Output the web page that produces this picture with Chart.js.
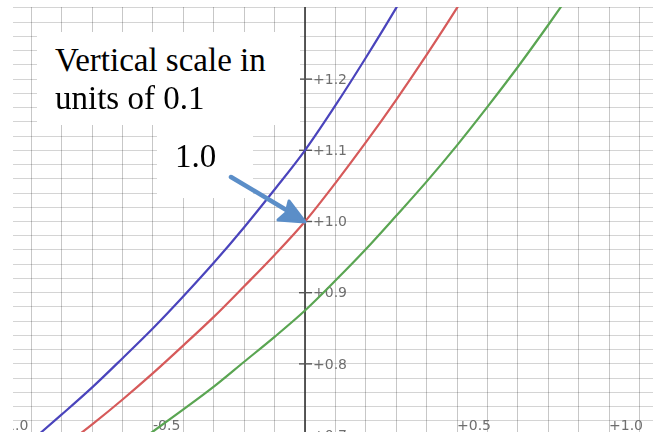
<!DOCTYPE html>
<html><head><meta charset="utf-8">
<script src="https://cdn.jsdelivr.net/npm/chart.js@4/dist/chart.umd.min.js"></script>
<style>
html,body{margin:0;padding:0;background:#fff;}
#wrap{position:relative;width:661px;height:432px;overflow:hidden;}
#c{position:absolute;left:0;top:0;}
.box{position:absolute;background:#fff;}
.txt{position:absolute;font-family:"Liberation Serif","Times New Roman",serif;font-size:33px;color:#000;white-space:nowrap;line-height:1;}
#arrow{position:absolute;left:0;top:0;}
</style></head><body>
<div id="wrap">
<canvas id="c" width="661" height="432"></canvas>
<div class="box" style="left:37px;top:32px;width:263px;height:93px"></div>
<div class="box" style="left:157px;top:124px;width:96px;height:74px"></div>
<div class="txt" style="left:55px;top:44px">Vertical scale in</div>
<div class="txt" style="left:55px;top:82px">units of 0.1</div>
<div class="txt" style="left:175px;top:140px">1.0</div>
<svg id="arrow" width="661" height="432">
  <line x1="231" y1="177" x2="298" y2="217" stroke="#5b8ec8" stroke-width="4.5" stroke-linecap="round"/>
  <polygon points="289,201 305,222 278,220 286,213" fill="#5b8ec8" stroke="#5b8ec8" stroke-width="3" stroke-linejoin="round"/>
</svg>
</div>
<script>
// Series
const blueX = [-0.9, -0.8, -0.7, -0.6, -0.5, -0.4, -0.3, -0.2, -0.1, 0.0, 0.1, 0.2, 0.3, 0.4];
const blueY = [0.692, 0.729, 0.767, 0.808, 0.850, 0.895, 0.942, 0.992, 1.045, 1.100, 1.163, 1.230, 1.300, 1.375];
const redX = [-0.8, -0.7, -0.6, -0.5, -0.4, -0.3, -0.2, -0.1, 0.0, 0.1, 0.2, 0.3, 0.4, 0.5, 0.6];
const redY = [0.682, 0.715, 0.750, 0.787, 0.826, 0.866, 0.909, 0.953, 1.000, 1.054, 1.111, 1.171, 1.234, 1.300, 1.370];
const greenX = [-0.6, -0.5, -0.4, -0.3, -0.2, -0.1, 0.0, 0.1, 0.2, 0.3, 0.4, 0.5, 0.6, 0.7, 0.8, 0.9];
const greenY = [0.675, 0.705, 0.736, 0.768, 0.803, 0.838, 0.875, 0.917, 0.961, 1.008, 1.056, 1.107, 1.161, 1.217, 1.276, 1.337];

// Axis labels
const yTickValues = [0.7, 0.8, 0.9, 1.0, 1.1, 1.2];
const yTickLabels = ['+0.7', '+0.8', '+0.9', '+1.0', '+1.1', '+1.2'];
const xTickValues = [-1.0, -0.5, 0.5, 1.0];
const xTickLabels = ['-1.0', '-0.5', '+0.5', '+1.0'];

const pts = (xs, ys) => xs.map((x, i) => ({x, y: ys[i]}));

const axisPlugin = {
  id: 'axes',
  beforeDatasetsDraw(chart) {
    const {ctx, chartArea: a, scales: {x, y}} = chart;
    ctx.save();
    ctx.beginPath();
    ctx.rect(a.left, a.top, a.right - a.left, a.bottom - a.top);
    ctx.clip();
    const x0 = x.getPixelForValue(0);
    ctx.strokeStyle = '#333';
    ctx.lineWidth = 1.6;
    ctx.beginPath(); ctx.moveTo(x0, a.top); ctx.lineTo(x0, a.bottom + 5); ctx.stroke();
    ctx.font = '14px "DejaVu Sans"';
    ctx.fillStyle = '#6e6e6e';
    ctx.textBaseline = 'middle';
    ctx.textAlign = 'left';
    ctx.lineWidth = 1.4;
    ctx.strokeStyle = '#555';
    yTickValues.forEach((v, i) => {
      const py = y.getPixelForValue(v);
      ctx.beginPath(); ctx.moveTo(x0 - 6, py); ctx.lineTo(x0 + 7, py); ctx.stroke();
      ctx.fillText(yTickLabels[i], x0 + 8, py + 1);
    });
    const pyAxis = y.getPixelForValue(0.7);
    xTickValues.forEach((v, i) => {
      const px = x.getPixelForValue(v);
      ctx.fillText(xTickLabels[i], px, pyAxis - 9);
    });
    ctx.restore();
  }
};

const gridStep = (scale, step) => {
  const out = [];
  const s = Math.ceil(scale.min / step - 1e-9), e = Math.floor(scale.max / step + 1e-9);
  for (let k = s; k <= e; k++) out.push({value: +(k * step).toFixed(4)});
  scale.ticks = out;
};

new Chart(document.getElementById('c'), {
  type: 'line',
  data: {
    datasets: [
      {label: 'blue', data: pts(blueX, blueY), borderColor: '#4a44bc', borderWidth: 2.2, pointRadius: 0, tension: 0.4, cubicInterpolationMode: 'monotone'},
      {label: 'red', data: pts(redX, redY), borderColor: '#d65a5a', borderWidth: 2.2, pointRadius: 0, tension: 0.4, cubicInterpolationMode: 'monotone'},
      {label: 'green', data: pts(greenX, greenY), borderColor: '#5aa552', borderWidth: 2.2, pointRadius: 0, tension: 0.4, cubicInterpolationMode: 'monotone'}
    ]
  },
  options: {
    responsive: false,
    animation: false,
    devicePixelRatio: 1,
    layout: {padding: {left: 13, top: 7, right: 8, bottom: 0}},
    plugins: {legend: {display: false}, tooltip: {enabled: false}},
    scales: {
      x: {
        type: 'linear', min: -0.9605, max: 1.1447,
        grid: {color: 'rgba(0,0,0,0.22)', lineWidth: 1, drawTicks: false},
        border: {display: false},
        ticks: {display: false},
        afterBuildTicks: s => gridStep(s, 0.1)
      },
      y: {
        type: 'linear', min: 0.7043, max: 1.3013,
        grid: {color: 'rgba(0,0,0,0.17)', lineWidth: 1, drawTicks: false},
        border: {display: false},
        ticks: {display: false},
        afterBuildTicks: s => gridStep(s, 0.02)
      }
    }
  },
  plugins: [axisPlugin]
});
</script>
</body></html>
